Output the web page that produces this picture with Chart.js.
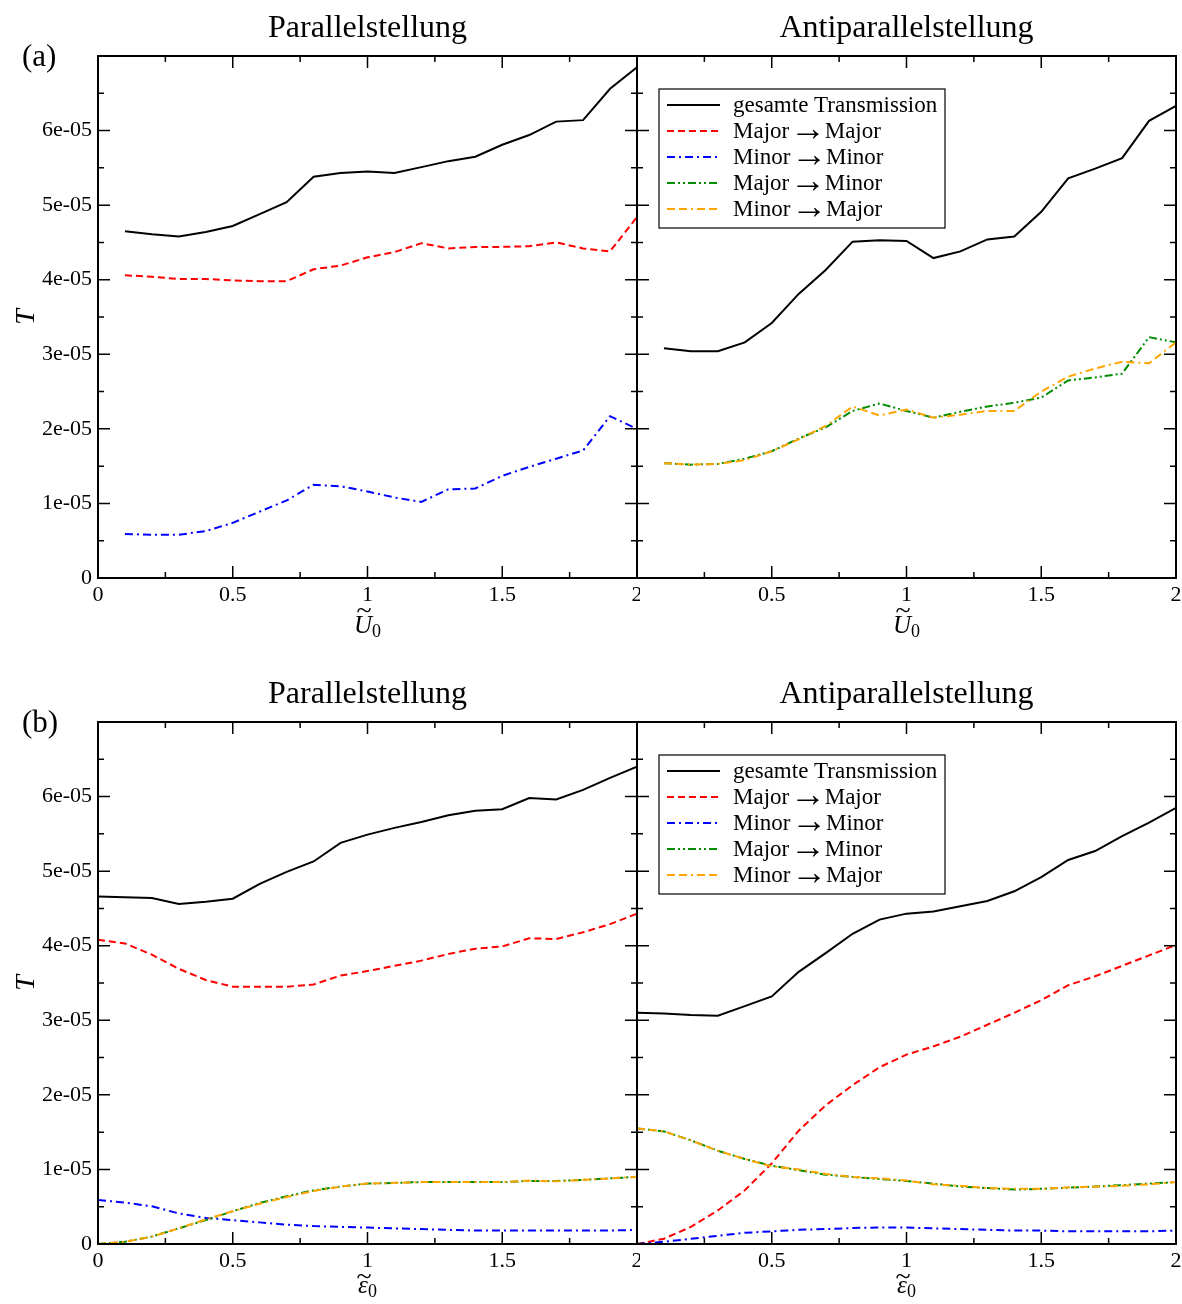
<!DOCTYPE html>
<html>
<head>
<meta charset="utf-8">
<script src="https://cdn.jsdelivr.net/npm/chart.js@4.4.1/dist/chart.umd.min.js"></script>
<style>
  body { margin: 0; background: #fff; }
  #wrap { position: relative; width: 1182px; height: 1304px; }
  canvas { position: absolute; }
</style>
</head>
<body>
<div id="wrap">
  <canvas id="aPar" width="640" height="638" style="left:0;top:0"></canvas>
  <canvas id="aAnti" width="582" height="638" style="left:600px;top:0"></canvas>
  <canvas id="bPar" width="640" height="638" style="left:0;top:666px"></canvas>
  <canvas id="bAnti" width="582" height="638" style="left:600px;top:666px"></canvas>
</div>
<script>
// x values
const uTilde = [0.1, 0.2, 0.3, 0.4, 0.5, 0.6, 0.7, 0.8, 0.9, 1.0, 1.1, 1.2, 1.3, 1.4, 1.5, 1.6, 1.7, 1.8, 1.9, 2.0];
const epsTilde = [0.0, 0.1, 0.2, 0.3, 0.4, 0.5, 0.6, 0.7, 0.8, 0.9, 1.0, 1.1, 1.2, 1.3, 1.4, 1.5, 1.6, 1.7, 1.8, 1.9, 2.0];

const seriesNames = ['gesamte Transmission', 'Major → Major', 'Minor → Minor', 'Major → Minor', 'Minor → Major'];
const yTickLabels = ['0', '1e-05', '2e-05', '3e-05', '4e-05', '5e-05', '6e-05', ''];

// T in units of 1e-05
// (a) Parallelstellung
const aParTotal  = [4.65, 4.61, 4.58, 4.64, 4.72, 4.88, 5.04, 5.38, 5.43, 5.45, 5.43, 5.51, 5.59, 5.65, 5.81, 5.94, 6.12, 6.14, 6.56, 6.85];
const aParMajMaj = [4.06, 4.04, 4.01, 4.01, 3.99, 3.98, 3.98, 4.14, 4.19, 4.30, 4.37, 4.49, 4.42, 4.44, 4.44, 4.45, 4.50, 4.42, 4.38, 4.84];
const aParMinMin = [0.59, 0.58, 0.58, 0.63, 0.74, 0.89, 1.04, 1.25, 1.23, 1.16, 1.08, 1.02, 1.19, 1.20, 1.37, 1.49, 1.60, 1.71, 2.17, 2.00];
const aParMajMin = [0, 0, 0, 0, 0, 0, 0, 0, 0, 0, 0, 0, 0, 0, 0, 0, 0, 0, 0, 0];
const aParMinMaj = [0, 0, 0, 0, 0, 0, 0, 0, 0, 0, 0, 0, 0, 0, 0, 0, 0, 0, 0, 0];

// (a) Antiparallelstellung
const aAntiTotal  = [3.08, 3.04, 3.04, 3.16, 3.42, 3.81, 4.13, 4.51, 4.53, 4.52, 4.29, 4.38, 4.54, 4.58, 4.91, 5.36, 5.49, 5.63, 6.13, 6.33];
const aAntiMajMaj = [0, 0, 0, 0, 0, 0, 0, 0, 0, 0, 0, 0, 0, 0, 0, 0, 0, 0, 0, 0];
const aAntiMinMin = [0, 0, 0, 0, 0, 0, 0, 0, 0, 0, 0, 0, 0, 0, 0, 0, 0, 0, 0, 0];
const aAntiMajMin = [1.54, 1.52, 1.53, 1.60, 1.70, 1.87, 2.02, 2.24, 2.34, 2.24, 2.15, 2.23, 2.30, 2.35, 2.42, 2.65, 2.69, 2.74, 3.23, 3.16];
const aAntiMinMaj = [1.54, 1.52, 1.53, 1.58, 1.70, 1.86, 2.04, 2.30, 2.18, 2.26, 2.15, 2.19, 2.24, 2.24, 2.50, 2.70, 2.81, 2.90, 2.88, 3.16];

// (b) Parallelstellung
const bParTotal  = [4.66, 4.65, 4.64, 4.56, 4.59, 4.63, 4.83, 4.99, 5.13, 5.38, 5.49, 5.58, 5.66, 5.75, 5.81, 5.83, 5.98, 5.96, 6.09, 6.25, 6.40];
const bParMajMaj = [4.08, 4.03, 3.88, 3.69, 3.54, 3.45, 3.45, 3.45, 3.48, 3.60, 3.66, 3.73, 3.80, 3.89, 3.96, 3.99, 4.10, 4.09, 4.18, 4.29, 4.43];
const bParMinMin = [0.59, 0.555, 0.505, 0.41, 0.35, 0.32, 0.29, 0.26, 0.24, 0.23, 0.22, 0.21, 0.20, 0.19, 0.18, 0.18, 0.18, 0.18, 0.18, 0.18, 0.19];
const bParMajMin = [0.0, 0.03, 0.10, 0.21, 0.32, 0.44, 0.55, 0.64, 0.72, 0.77, 0.81, 0.82, 0.83, 0.83, 0.83, 0.83, 0.845, 0.845, 0.86, 0.88, 0.90];
const bParMinMaj = [0.0, 0.03, 0.10, 0.21, 0.33, 0.44, 0.54, 0.63, 0.71, 0.77, 0.81, 0.82, 0.83, 0.83, 0.83, 0.83, 0.85, 0.84, 0.86, 0.88, 0.90];

// (b) Antiparallelstellung
const bAntiTotal  = [3.10, 3.09, 3.07, 3.06, 3.19, 3.32, 3.65, 3.90, 4.16, 4.35, 4.43, 4.46, 4.53, 4.60, 4.73, 4.92, 5.15, 5.27, 5.47, 5.65, 5.85];
const bAntiMajMaj = [0.0, 0.07, 0.23, 0.45, 0.72, 1.08, 1.52, 1.86, 2.13, 2.37, 2.54, 2.65, 2.78, 2.94, 3.10, 3.27, 3.47, 3.59, 3.73, 3.87, 4.01];
const bAntiMinMin = [0.0, 0.03, 0.07, 0.11, 0.15, 0.17, 0.19, 0.20, 0.215, 0.22, 0.22, 0.21, 0.20, 0.19, 0.18, 0.18, 0.17, 0.17, 0.17, 0.17, 0.18];
const bAntiMajMin = [1.55, 1.51, 1.39, 1.25, 1.14, 1.05, 0.99, 0.93, 0.90, 0.87, 0.845, 0.81, 0.77, 0.75, 0.73, 0.74, 0.755, 0.77, 0.79, 0.81, 0.83];
const bAntiMinMaj = [1.55, 1.51, 1.39, 1.25, 1.14, 1.04, 1.00, 0.94, 0.90, 0.88, 0.85, 0.80, 0.78, 0.75, 0.74, 0.74, 0.76, 0.77, 0.78, 0.80, 0.83];

const serif = '"Liberation Serif", "Times New Roman", serif';
Chart.defaults.font.family = serif;
Chart.defaults.font.size = 22;
Chart.defaults.color = '#000';

const lineStyles = [
  { color: '#000000', dash: [] },
  { color: '#ff0000', dash: [7, 4] },
  { color: '#0000ff', dash: [8, 4, 2, 4] },
  { color: '#008b00', dash: [8, 3, 2, 3, 2, 3] },
  { color: '#ffa500', dash: [8, 4, 8, 4, 2, 4] }
];

// ticks pointing inward on all four sides + frame
const framePlugin = {
  id: 'frame',
  afterDatasetsDraw(chart) {
    const { ctx, chartArea: a, scales: { x, y } } = chart;
    ctx.save();
    ctx.strokeStyle = '#000';
    ctx.lineWidth = 1.5;
    ctx.beginPath();
    for (let v = 0; v <= 7; v += 0.5) {
      const py = y.getPixelForValue(v), len = v % 1 === 0 ? 12 : 6;
      ctx.moveTo(a.left, py); ctx.lineTo(a.left + len, py);
      ctx.moveTo(a.right, py); ctx.lineTo(a.right - len, py);
    }
    for (let v = 0; v <= 2; v += 0.25) {
      const px = x.getPixelForValue(v), len = v % 0.5 === 0 ? 12 : 6;
      ctx.moveTo(px, a.top); ctx.lineTo(px, a.top + len);
      ctx.moveTo(px, a.bottom); ctx.lineTo(px, a.bottom - len);
    }
    ctx.stroke();
    ctx.lineWidth = 2;
    ctx.strokeRect(a.left, a.top, a.right - a.left, a.bottom - a.top);
    ctx.restore();
  }
};

// legend box inside the plot
const keyPlugin = {
  id: 'key',
  afterDraw(chart, args, opts) {
    if (!opts.show) return;
    const { ctx, chartArea: a } = chart;
    const bx = a.left + 22, by = a.top + opts.top;
    ctx.save();
    ctx.fillStyle = '#fff';
    ctx.fillRect(bx, by, 286, 139);
    ctx.strokeStyle = '#000';
    ctx.lineWidth = 1.2;
    ctx.strokeRect(bx, by, 286, 139);
    chart.data.datasets.forEach((ds, i) => {
      const ly = by + 16 + i * 26;
      ctx.setLineDash(ds.borderDash);
      ctx.strokeStyle = ds.borderColor;
      ctx.lineWidth = 2;
      ctx.beginPath();
      ctx.moveTo(bx + 8, ly);
      ctx.lineTo(bx + 61, ly);
      ctx.stroke();
      ctx.setLineDash([]);
      ctx.fillStyle = '#000';
      ctx.textBaseline = 'middle';
      ctx.textAlign = 'left';
      // the arrow is drawn bigger, like a math arrow
      const parts = ds.label.split(' → ');
      let tx = bx + 74;
      ctx.font = '23px ' + serif;
      ctx.fillText(parts[0], tx, ly + 1);
      if (parts.length > 1) {
        tx += ctx.measureText(parts[0]).width + 1;
        ctx.font = '36px ' + serif;
        ctx.fillText('→', tx, ly);
        tx += ctx.measureText('→').width - 1.5;
        ctx.font = '23px ' + serif;
        ctx.fillText(parts[1], tx, ly + 1);
      }
    });
    ctx.restore();
  }
};

// panel letter and x axis symbol with tilde and subscript
const notePlugin = {
  id: 'note',
  afterDraw(chart, args, opts) {
    const { ctx, chartArea: a } = chart;
    ctx.save();
    ctx.fillStyle = '#000';
    if (opts.letter) {
      ctx.font = '31px ' + serif;
      ctx.textAlign = 'left';
      ctx.textBaseline = 'middle';
      ctx.fillText(opts.letter, 22, a.top + 2);
    }
    const cx = (a.left + a.right) / 2, base = a.bottom + opts.base;
    ctx.textBaseline = 'alphabetic';
    ctx.textAlign = 'left';
    ctx.font = 'italic 25px ' + serif;
    const wm = ctx.measureText(opts.symbol).width;
    ctx.font = '18px ' + serif;
    const ws = ctx.measureText('0').width;
    const x0 = cx - (wm + ws) / 2;
    ctx.font = 'italic 25px ' + serif;
    ctx.fillText(opts.symbol, x0, base);
    ctx.font = '18px ' + serif;
    ctx.fillText('0', x0 + wm, base + 4);
    ctx.font = '28px ' + serif;
    ctx.textAlign = 'center';
    ctx.fillText('~', x0 + wm / 2 + 1, base - opts.rise);
    ctx.restore();
  }
};

function makePanel(id, cfg) {
  const datasets = cfg.series.map((vals, i) => ({
    label: seriesNames[i],
    data: vals.map((v, k) => ({ x: cfg.xs[k], y: v })),
    borderColor: lineStyles[i].color,
    borderDash: lineStyles[i].dash,
    borderWidth: 2,
    pointRadius: 0,
    tension: 0,
    fill: false,
    order: 5 - i
  }));
  const left = cfg.side === 'left';
  new Chart(document.getElementById(id), {
    type: 'line',
    data: { datasets },
    plugins: [framePlugin, keyPlugin, notePlugin],
    options: {
      responsive: false,
      animation: false,
      layout: { autoPadding: false, padding: { top: 0, bottom: 0, left: left ? 0 : 37, right: left ? 3 : 6 } },
      plugins: {
        legend: { display: false },
        tooltip: { enabled: false },
        title: {
          display: true, text: cfg.title, color: '#000', fullSize: false,
          font: { size: 32, weight: 'normal' },
          padding: { top: 9, bottom: 8.6 }
        },
        key: { show: !left, top: cfg.keyTop },
        note: { letter: left ? cfg.letter : '', symbol: cfg.symbol, base: cfg.symBase, rise: cfg.symRise }
      },
      scales: {
        x: {
          type: 'linear', min: 0, max: 2,
          grid: { display: false, drawTicks: false }, border: { display: false },
          ticks: {
            stepSize: 0.5, padding: 4,
            callback: v => (!left && v === 0) ? '' : String(v)
          },
          afterFit: s => { s.height = 60; s.paddingLeft = 0; s.paddingRight = 0; }
        },
        y: {
          display: left,
          min: 0, max: 7,
          grid: { display: false, drawTicks: false }, border: { display: false },
          ticks: { stepSize: 1, padding: 6, callback: v => yTickLabels[v] },
          title: { display: true, text: 'T', font: { size: 28, style: 'italic' }, padding: { top: 10 } },
          afterFit: s => { s.width = left ? 98 : 0; s.paddingTop = 0; s.paddingBottom = 0; }
        }
      }
    }
  });
}

makePanel('aPar', { side: 'left', title: 'Parallelstellung', letter: '(a)', xs: uTilde,
  series: [aParTotal, aParMajMaj, aParMinMin, aParMajMin, aParMinMaj],
  symbol: 'U', symBase: 55, symRise: 14 });
makePanel('aAnti', { side: 'right', title: 'Antiparallelstellung', xs: uTilde, keyTop: 33,
  series: [aAntiTotal, aAntiMajMaj, aAntiMinMin, aAntiMajMin, aAntiMinMaj],
  symbol: 'U', symBase: 55, symRise: 14 });
makePanel('bPar', { side: 'left', title: 'Parallelstellung', letter: '(b)', xs: epsTilde,
  series: [bParTotal, bParMajMaj, bParMinMin, bParMajMin, bParMinMaj],
  symbol: 'ε', symBase: 49, symRise: 8 });
makePanel('bAnti', { side: 'right', title: 'Antiparallelstellung', xs: epsTilde, keyTop: 33,
  series: [bAntiTotal, bAntiMajMaj, bAntiMinMin, bAntiMajMin, bAntiMinMaj],
  symbol: 'ε', symBase: 49, symRise: 8 });
</script>
</body>
</html>
